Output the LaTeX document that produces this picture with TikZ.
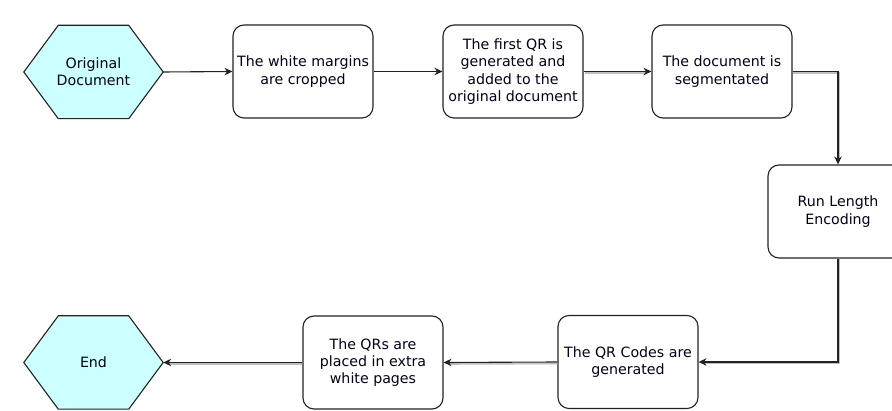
\documentclass[tikz,border=0pt]{standalone}
\usepackage{fontspec}
\setmainfont{DejaVu Sans}
\usetikzlibrary{arrows.meta,calc}
\definecolor{hexfill}{HTML}{CCFFFF}
\definecolor{edge}{HTML}{222222}
\tikzset{
  stepbox/.style={draw=edge, line width=1.1pt, rounded corners=11pt, fill=white,
    minimum width=140pt, minimum height=93pt, inner sep=0pt, align=center,
    font=\fontsize{14.2}{17.3}\selectfont, text=black!90!blue},
  hexnode/.style={minimum width=139pt, minimum height=93pt, inner sep=0pt, align=center,
    font=\fontsize{14.2}{17.3}\selectfont, text=black!90!blue},
  hexpath/.style={draw=edge, line width=1.1pt, fill=hexfill},
  conn/.style={draw=edge, line width=1.1pt, -{Stealth[length=8pt,width=7.5pt]}},
  shad/.style={draw=black!25, line width=1.6pt},
}
\begin{document}
\begin{tikzpicture}[x=1pt,y=-1pt]
\useasboundingbox (0,0) rectangle (892,411);
% hexagon nodes
\node[hexnode] (od) at (93.5,72) {};
\node[hexnode] (en) at (93.5,362.5) {};
\foreach \h in {od,en}{
  \path[hexpath] (\h.west) -- ($(\h.north west)+(34.5,0)$) -- ($(\h.north east)+(-34.5,0)$)
    -- (\h.east) -- ($(\h.south east)+(-34.5,0)$) -- ($(\h.south west)+(34.5,0)$) -- cycle;
}
\node[hexnode] at (od) {Original\\Document};
\node[hexnode] at (en) {End};
% boxes
\node[stepbox] (b1) at (303,71.5) {The white margins\\are cropped};
\node[stepbox] (b2) at (513,71.5) {The first QR is\\generated and\\added to the\\original document};
\node[stepbox] (b3) at (722,71.5) {The document is\\segmentated};
\node[stepbox] (b4) at (838,211.5) {Run Length\\Encoding};
\node[stepbox] (b5) at (628,362) {The QR Codes are\\generated};
\node[stepbox] (b6) at (373,362.5) {The QRs are\\placed in extra\\white pages};
% shadows of connectors
\draw[shad] ($(b2.east)+(1.5,1.5)$) -- ($(b3.west)+(-6,1.5)$);
\draw[shad] ($(b3.east)+(0,1.5)$) -- ($(b3.east -| b4.north)+(1.5,1.5)$) -- ($(b4.north)+(1.5,-6)$);
\draw[shad] ($(b4.south)+(1.5,0)$) -- ($(b4.south |- b5.east)+(1.5,1.5)$) -- ($(b5.east)+(6,1.5)$);
\draw[shad] ($(b5.west)+(0,1.5)$) -- ($(b6.east)+(6,1.5)$);
\draw[shad] ($(b6.west)+(0,1.5)$) -- ($(en.east)+(6,1.5)$);
% connectors
\draw[conn] (od.east) -- (b1.west);
\draw[conn] (b1.east) -- (b2.west);
\draw[conn] (b2.east) -- (b3.west);
\draw[conn] (b3.east) -| (b4.north);
\draw[conn] (b4.south) |- (b5.east);
\draw[conn] (b5.west) -- (b6.east);
\draw[conn] (b6.west) -- (en.east);
\end{tikzpicture}
\end{document}
